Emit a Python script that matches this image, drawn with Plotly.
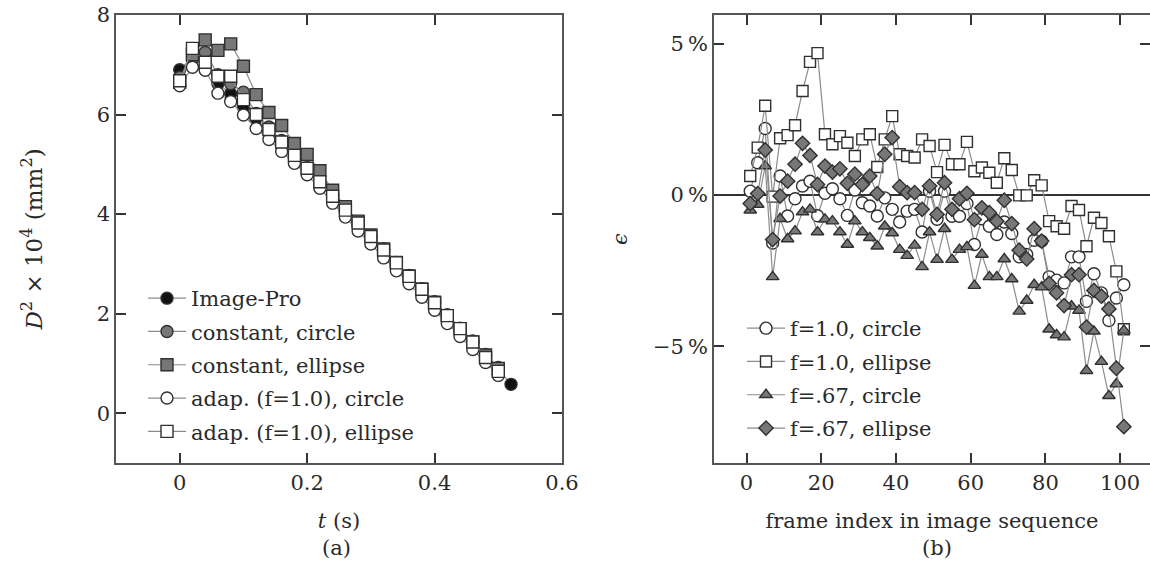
import plotly.graph_objects as go

# ---------------- panel (a): squared diameter vs time ----------------
t_imagepro = [0.00, 0.02, 0.04, 0.06, 0.08, 0.10, 0.12, 0.14, 0.16, 0.18, 0.20, 0.22, 0.24,
              0.26, 0.28, 0.30, 0.32, 0.34, 0.36, 0.38, 0.40, 0.42, 0.44, 0.46, 0.48, 0.50, 0.52]
t_fit = t_imagepro[:-1]

d2_imagepro = [6.90, 7.15, 7.20, 6.62, 6.42, 6.15, 5.92, 5.66, 5.40, 5.12, 4.85, 4.60, 4.32,
               4.06, 3.80, 3.52, 3.27, 3.00, 2.74, 2.47, 2.21, 1.95, 1.68, 1.42, 1.15, 0.88, 0.58]
d2_const_circle = [6.75, 7.10, 7.25, 6.80, 6.62, 6.45, 6.02, 5.75, 5.48, 5.20, 4.93, 4.66, 4.38,
                   4.10, 3.84, 3.56, 3.30, 3.03, 2.77, 2.50, 2.24, 1.98, 1.71, 1.45, 1.18, 0.92]
d2_const_ellipse = [6.65, 7.20, 7.50, 7.29, 7.42, 6.97, 6.40, 6.04, 5.78, 5.42, 5.20, 4.87, 4.48,
                    4.15, 3.86, 3.58, 3.30, 3.03, 2.76, 2.49, 2.23, 1.96, 1.70, 1.43, 1.17, 0.90]
d2_adap_circle = [6.58, 6.95, 6.89, 6.43, 6.26, 5.99, 5.72, 5.50, 5.26, 5.02, 4.79, 4.52, 4.22,
                  3.94, 3.66, 3.40, 3.12, 2.86, 2.60, 2.33, 2.07, 1.80, 1.54, 1.28, 1.02, 0.76]
d2_adap_ellipse = [6.68, 7.33, 7.05, 6.77, 6.77, 6.30, 6.00, 5.70, 5.45, 5.18, 4.92, 4.65, 4.36,
                   4.08, 3.82, 3.55, 3.28, 3.02, 2.75, 2.49, 2.22, 1.96, 1.70, 1.43, 1.12, 0.84]

# ---------------- panel (b): relative error per frame ----------------
frames = list(range(1, 102, 2))

eps_f10_circle = [0.13, 1.07, 2.20, -1.58, 0.63, -0.69, -0.12, 0.30, 0.46, -0.68,
                  0.06, 0.21, -0.12, -0.67, 0.17, -0.25, -0.36, -0.69, -0.09, -0.47,
                  -0.89, -0.53, -0.47, -1.22, 0.13, -0.80, 0.13, -0.70, -0.70, -0.28,
                  -1.63, -0.78, -1.03, -1.30, -0.89, -1.27, -2.04, -1.96, -1.49, -1.52,
                  -2.70, -2.81, -2.90, -2.04, -2.04, -3.51, -2.60, -3.23, -4.14, -3.40,
                  -2.96]
eps_f10_ellipse = [0.63, 1.57, 2.95, -0.05, 1.88, 1.98, 2.31, 3.44, 4.40, 4.69,
                   2.01, 1.68, 1.95, 1.73, 1.29, 1.84, 2.01, 0.93, 1.84, 2.61,
                   1.35, 1.29, 1.24, 1.84, 1.62, 0.76, 1.66, 1.02, 1.02, 1.76,
                   0.79, 0.91, 0.74, 0.41, 1.22, 0.83, -0.01, -0.01, 0.49, 0.32,
                   -0.86, -1.03, -1.11, -0.36, -0.49, -1.69, -0.75, -0.92, -1.36, -2.52,
                   -4.43]
eps_f67_circle = [-0.50, -0.31, 0.96, -2.70, -0.78, -1.45, -1.19, -0.56, -0.47, -1.22,
                  -0.80, -0.86, -1.22, -1.63, -0.86, -1.22, -1.41, -1.69, -1.03, -1.25,
                  -1.80, -2.00, -1.66, -2.37, -1.22, -2.13, -1.11, -2.13, -1.80, -1.71,
                  -2.99, -1.96, -2.70, -2.70, -2.11, -2.77, -3.84, -3.48, -2.96, -3.04,
                  -4.43, -4.62, -4.69, -3.67, -3.81, -5.80, -4.50, -5.50, -6.63, -6.24,
                  -4.47]
eps_f67_ellipse = [-0.28, 0.05, 1.49, -1.47, -0.03, 0.46, 1.02, 1.71, 1.31, 0.35,
                   0.96, 0.76, 0.87, 0.39, 0.69, 0.35, 0.63, 0.05, 1.35, 1.90,
                   0.28, 0.08, 0.08, -0.47, 0.30, -0.64, 0.41, -0.47, -0.12, 0.06,
                   -0.81, -0.42, -0.58, -0.86, -0.17, -0.94, -1.82, -2.11, -1.11, -1.52,
                   -2.92, -3.23, -3.65, -2.63, -2.63, -4.36, -3.15, -3.34, -3.76, -5.72,
                   -7.65]

x_ticks_a = [0, 0.2, 0.4, 0.6]
y_ticks_a = [0, 2, 4, 6, 8]
x_ticks_b = [0, 20, 40, 60, 80, 100]
y_ticks_b = [-5, 0, 5]
y_ticklabels_b = ["\u22125\u2009%", "0\u2009%", "5\u2009%"]

FONT = "DejaVu Serif"
TXT = "#2a2a2a"
AX = "#555555"
LINE = "#8c8c8c"
EDGE = "#303030"
GRAY = "#777777"

fig = go.Figure()


def add(x, y, name, symbol, fill, size, xa, ya, legend):
    # one legend group per trace so tracegroupgap spaces the entries
    fig.add_trace(go.Scatter(
        x=x, y=y, name=name, mode="lines+markers",
        line=dict(color=LINE, width=1.2),
        marker=dict(symbol=symbol, size=size, color=fill,
                    line=dict(color=EDGE, width=1.4)),
        xaxis=xa, yaxis=ya, legend=legend, legendgroup=name,
    ))


add(t_imagepro, d2_imagepro, "Image-Pro", "circle", "#111111", 12, "x", "y", "legend")
add(t_fit, d2_const_circle, "constant, circle", "circle", GRAY, 12, "x", "y", "legend")
add(t_fit, d2_const_ellipse, "constant, ellipse", "square", GRAY, 12, "x", "y", "legend")
add(t_fit, d2_adap_circle, "adap. (f=1.0), circle", "circle", "white", 12, "x", "y", "legend")
add(t_fit, d2_adap_ellipse, "adap. (f=1.0), ellipse", "square", "white", 12, "x", "y", "legend")

add(frames, eps_f10_circle, "f=1.0, circle", "circle", "white", 12, "x2", "y2", "legend2")
add(frames, eps_f10_ellipse, "f=1.0, ellipse", "square", "white", 11, "x2", "y2", "legend2")
add(frames, eps_f67_circle, "f=.67, circle", "triangle-up", GRAY, 11, "x2", "y2", "legend2")
add(frames, eps_f67_ellipse, "f=.67, ellipse", "diamond", GRAY, 11, "x2", "y2", "legend2")

W, H = 1150, 570
top_px, bot_px = 15, 463
ydom = [1 - bot_px / H, 1 - top_px / H]

axis_common = dict(
    showline=True, linecolor=AX, linewidth=1.5, mirror="ticks",
    ticks="inside", ticklen=10, tickwidth=2, tickcolor="#333333",
    showgrid=False, automargin=False,
    tickfont=dict(family=FONT, size=21, color=TXT),
)

legend_common = dict(
    xanchor="left", yanchor="top", bgcolor="rgba(0,0,0,0)", borderwidth=0,
    font=dict(family=FONT, size=21, color=TXT), itemwidth=38, tracegroupgap=3,
)

fig.update_layout(
    width=W, height=H,
    margin=dict(l=0, r=0, t=0, b=0),
    paper_bgcolor="white", plot_bgcolor="white",
    font=dict(family=FONT, size=21, color=TXT),
    xaxis=dict(domain=[116 / W, 562 / W], range=[-0.1, 0.6],
               tickvals=x_ticks_a, ticktext=["0", "0.2", "0.4", "0.6"],
               zeroline=False,
               title=dict(text="<i>t</i> (s)", standoff=19,
                          font=dict(family=FONT, size=21, color=TXT)),
               **axis_common),
    yaxis=dict(domain=ydom, range=[-1, 8], tickvals=y_ticks_a, zeroline=False,
               title=dict(text="<i>D</i><sup>2</sup> × 10<sup>4</sup> (mm<sup>2</sup>)",
                          standoff=48, font=dict(family=FONT, size=23, color=TXT)),
               **axis_common),
    xaxis2=dict(domain=[714 / W, 1.0], range=[-8.7, 108], anchor="y2",
                tickvals=x_ticks_b, zeroline=False,
                title=dict(text="frame index in image sequence", standoff=19,
                           font=dict(family=FONT, size=21, color=TXT)),
                **axis_common),
    yaxis2=dict(domain=ydom, range=[-8.85, 5.95], anchor="x2",
                tickvals=y_ticks_b, ticktext=y_ticklabels_b,
                zeroline=True, zerolinecolor="#333333", zerolinewidth=1.5,
                title=dict(text="<i>\u03f5</i>", standoff=20,
                           font=dict(family=FONT, size=21, color=TXT)),
                **axis_common),
    legend=dict(x=143 / W, y=1 - 278 / H, **legend_common),
    legend2=dict(x=742 / W, y=1 - 308 / H, **legend_common),
    showlegend=True,
)

fig.add_annotation(text="(a)", x=336 / W, y=1 - 548 / H, xref="paper", yref="paper",
                   xanchor="center", yanchor="middle", showarrow=False,
                   font=dict(family=FONT, size=21, color=TXT))
fig.add_annotation(text="(b)", x=937 / W, y=1 - 548 / H, xref="paper", yref="paper",
                   xanchor="center", yanchor="middle", showarrow=False,
                   font=dict(family=FONT, size=21, color=TXT))

fig.write_html("out.html")
